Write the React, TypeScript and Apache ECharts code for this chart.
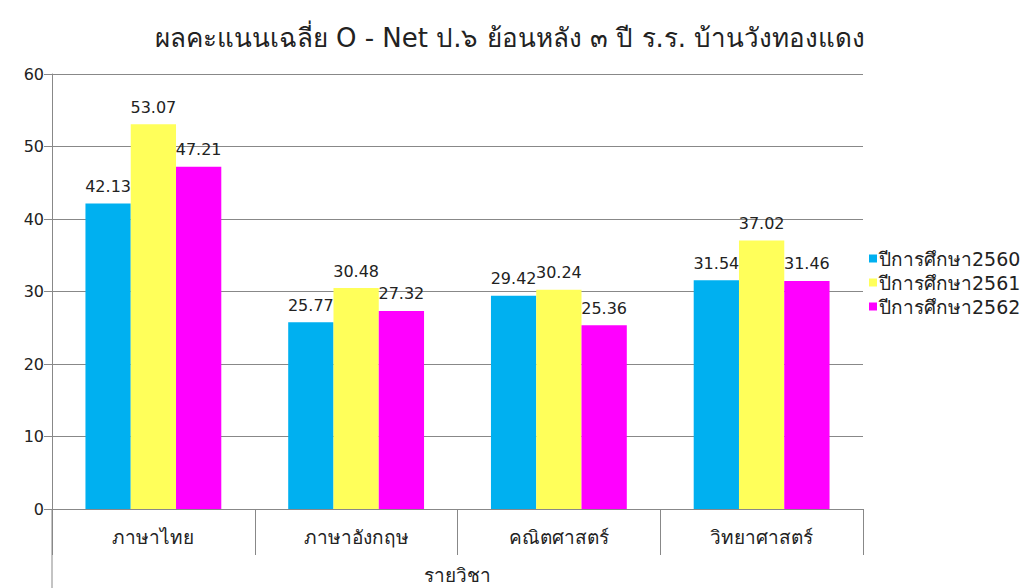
import React, { useEffect, useRef } from "react";
import * as echarts from "echarts";

const categories = ["ภาษาไทย", "ภาษาอังกฤษ", "คณิตศาสตร์", "วิทยาศาสตร์"];
const seriesNames = ["ปีการศึกษา2560", "ปีการศึกษา2561", "ปีการศึกษา2562"];
const values2560 = [42.13, 25.77, 29.42, 31.54];
const values2561 = [53.07, 30.48, 30.24, 37.02];
const values2562 = [47.21, 27.32, 25.36, 31.46];
const colors = ["#00B0F0", "#FFFF5A", "#FF00FF"];

const FONT = "Tahoma, 'DejaVu Sans', 'Noto Sans', sans-serif";

export default function App() {
  const ref = useRef<HTMLDivElement>(null);
  useEffect(() => {
    if (!ref.current) return;
    const chart = echarts.init(ref.current, undefined, { renderer: "svg" });
    const gridLeft = 52;
    const gridRight = 166;
    const gridTop = 74;
    const gridBottom = 79;
    const allValues = [values2560, values2561, values2562];
    chart.setOption({
      animation: false,
      backgroundColor: "#ffffff",
      textStyle: { fontFamily: FONT },
      title: {
        text: "ผลคะแนนเฉลี่ย O - Net ป.๖ ย้อนหลัง ๓ ปี ร.ร. บ้านวังทองแดง",
        left: 505,
        textAlign: "center",
        top: 20,
        textStyle: { fontSize: 26, fontWeight: "normal", color: "#222", fontFamily: FONT },
      },
      legend: {
        orient: "vertical",
        left: 864,
        top: 244,
        itemWidth: 8,
        itemHeight: 8,
        itemGap: 5,
        icon: "rect",
        textStyle: { fontSize: 19, color: "#222", padding: [0, 0, 0, -3] },
        data: seriesNames,
      },
      grid: {
        left: gridLeft,
        right: gridRight,
        top: gridTop,
        bottom: gridBottom,
        containLabel: false,
        outerBoundsMode: "none",
      },
      xAxis: {
        type: "category",
        data: categories,
        name: "รายวิชา",
        nameLocation: "middle",
        nameGap: 56,
        nameTextStyle: { fontSize: 19, color: "#222" },
        axisLine: { lineStyle: { color: "#888" } },
        axisTick: { show: true, length: 46, lineStyle: { color: "#888" } },
        axisLabel: { fontSize: 19, color: "#222", margin: 18 },
      },
      yAxis: {
        type: "value",
        min: 0,
        max: 60,
        interval: 10,
        axisLine: { show: true, lineStyle: { color: "#888" } },
        axisTick: { show: true, length: 8, lineStyle: { color: "#888" } },
        axisLabel: { fontSize: 16, color: "#222", margin: 8 },
        splitLine: { lineStyle: { color: "#888" } },
      },
      graphic: [
        {
          type: "line",
          shape: { x1: gridLeft, y1: 588 - gridBottom, x2: gridLeft, y2: 588 },
          style: { stroke: "#888", lineWidth: 1 },
        },
      ],
      series: seriesNames.map((name, i) => ({
        name,
        type: "bar",
        data: allValues[i],
        barGap: "0%",
        barCategoryGap: "33%",
        itemStyle: { color: colors[i] },
        label: {
          show: true,
          position: "top",
          distance: 9,
          fontSize: 16,
          color: "#222",
          formatter: (p: any) => p.value.toFixed(2),
        },
      })),
    });
    return () => chart.dispose();
  }, []);
  return (
    <div
      ref={ref}
      style={{ position: "absolute", left: 0, top: 0, width: 1029, height: 588 }}
    />
  );
}
